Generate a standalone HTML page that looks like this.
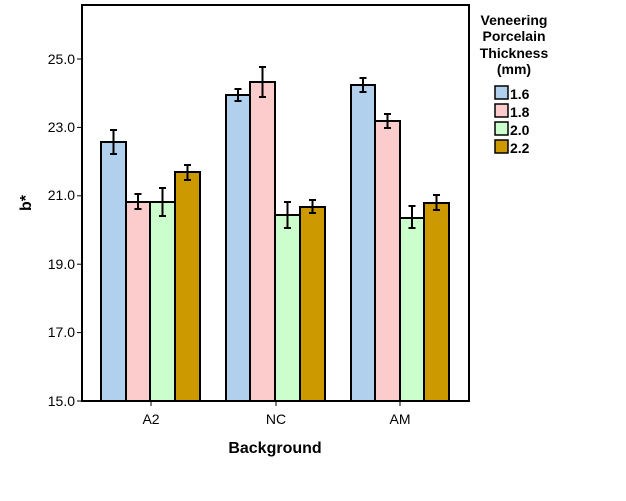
<!DOCTYPE html>
<html><head><style>body{margin:0;background:#fff}svg{display:block}text{font-family:"Liberation Sans",Arial,sans-serif}</style></head><body>
<svg width="626" height="501" xmlns="http://www.w3.org/2000/svg">
<rect x="82" y="5" width="387" height="396" fill="#fff" stroke="#000" stroke-width="2"/>
<g stroke="#000" stroke-width="1">
<line x1="77" y1="59" x2="82" y2="59"/><line x1="77" y1="127.4" x2="82" y2="127.4"/><line x1="77" y1="195.8" x2="82" y2="195.8"/><line x1="77" y1="264.2" x2="82" y2="264.2"/><line x1="77" y1="332.6" x2="82" y2="332.6"/><line x1="77" y1="401" x2="82" y2="401"/>
<line x1="151" y1="401" x2="151" y2="406"/><line x1="276" y1="401" x2="276" y2="406"/><line x1="400" y1="401" x2="400" y2="406"/>
</g>
<g font-size="14" text-anchor="end">
<text x="75" y="64">25.0</text><text x="75" y="132">23.0</text><text x="75" y="200">21.0</text><text x="75" y="269">19.0</text><text x="75" y="337">17.0</text><text x="75" y="406">15.0</text>
</g>
<g font-size="14" text-anchor="middle"><text x="151" y="424">A2</text><text x="276" y="424">NC</text><text x="400" y="424">AM</text></g>
<text x="275" y="453" font-size="16" font-weight="bold" text-anchor="middle">Background</text>
<text transform="translate(31,203) rotate(-90)" font-size="16" font-weight="bold" text-anchor="middle">b*</text>
<g stroke="#000" stroke-width="2">
<rect x="101" y="142" width="25" height="259" fill="#b0d0ee"/><rect x="126" y="202" width="24" height="199" fill="#fccccc"/><rect x="150" y="202" width="25" height="199" fill="#ccfdcc"/><rect x="175" y="172" width="25" height="229" fill="#cc9900"/>
<rect x="226" y="95" width="24" height="306" fill="#b0d0ee"/><rect x="250" y="82" width="25" height="319" fill="#fccccc"/><rect x="275" y="215" width="25" height="186" fill="#ccfdcc"/><rect x="300" y="207" width="25" height="194" fill="#cc9900"/>
<rect x="351" y="85" width="24" height="316" fill="#b0d0ee"/><rect x="375" y="121" width="25" height="280" fill="#fccccc"/><rect x="400" y="218" width="24" height="183" fill="#ccfdcc"/><rect x="424" y="203" width="25" height="198" fill="#cc9900"/>
</g>
<g stroke="#000" stroke-width="2" fill="none">
<path d="M113.5 130V154M110 130H117M110 154H117"/>
<path d="M138 194V209M134.5 194H141.5M134.5 209H141.5"/>
<path d="M162.5 188V216M159 188H166M159 216H166"/>
<path d="M187.5 165V180M184 165H191M184 180H191"/>
<path d="M238 89V101M234.5 89H241.5M234.5 101H241.5"/>
<path d="M262.5 67V97M259 67H266M259 97H266"/>
<path d="M287.5 202V228M284 202H291M284 228H291"/>
<path d="M312.5 200V213M309 200H316M309 213H316"/>
<path d="M363 78V92M359.5 78H366.5M359.5 92H366.5"/>
<path d="M387.5 114V128M384 114H391M384 128H391"/>
<path d="M412 206V228M408.5 206H415.5M408.5 228H415.5"/>
<path d="M436.5 195V210M433 195H440M433 210H440"/>
</g>
<g font-size="14" font-weight="bold" text-anchor="middle">
<text x="514" y="25">Veneering</text><text x="514" y="41">Porcelain</text><text x="514" y="58">Thickness</text><text x="514" y="74">(mm)</text>
</g>
<g stroke="#000" stroke-width="1.5">
<rect x="495" y="86" width="13" height="13" fill="#b0d0ee"/><rect x="495" y="104" width="13" height="13" fill="#fccccc"/><rect x="495" y="122" width="13" height="13" fill="#ccfdcc"/><rect x="495" y="140" width="13" height="13" fill="#cc9900"/>
</g>
<g font-size="14" font-weight="bold"><text x="510" y="99">1.6</text><text x="510" y="117">1.8</text><text x="510" y="135">2.0</text><text x="510" y="153">2.2</text></g>
</svg>
</body></html>
